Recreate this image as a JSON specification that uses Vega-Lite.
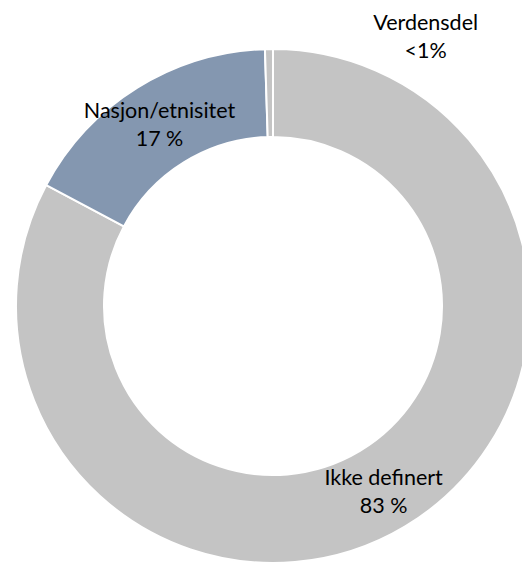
{
  "$schema": "https://vega.github.io/schema/vega-lite/v6.json",
  "width": 514,
  "height": 514,
  "autosize": {"type": "none"},
  "padding": {"left": 16, "top": 49, "right": -8, "bottom": 2},
  "background": "white",
  "view": {"stroke": null},
  "data": {
    "values": [
      {"kategori": "Ikke definert", "andel": 82.8, "etikett": "Ikke definert\n83 %", "rekkefolge": 1},
      {"kategori": "Nasjon/etnisitet", "andel": 16.7, "etikett": "Nasjon/etnisitet\n17 %", "rekkefolge": 2},
      {"kategori": "Verdensdel", "andel": 0.5, "etikett": "Verdensdel\n<1%", "rekkefolge": 3}
    ]
  },
  "encoding": {
    "theta": {"field": "andel", "type": "quantitative", "stack": true},
    "order": {"field": "rekkefolge", "type": "quantitative"}
  },
  "layer": [
    {
      "mark": {"type": "arc", "outerRadius": 257, "innerRadius": 169, "stroke": "white", "strokeWidth": 2},
      "encoding": {
        "color": {
          "field": "kategori",
          "type": "nominal",
          "scale": {"domain": ["Ikke definert", "Nasjon/etnisitet", "Verdensdel"], "range": ["#C4C4C4", "#8497B0", "#C4C4C4"]},
          "legend": null
        }
      }
    },
    {
      "mark": {"type": "text", "radius": 215, "dy": -11, "font": "Lato", "fontSize": 21.5, "lineHeight": 28, "lineBreak": "\n", "color": "#000000", "align": "center", "baseline": "middle"},
      "encoding": {
        "text": {"field": "etikett", "type": "nominal", "condition": {"test": "datum.kategori === 'Verdensdel'", "value": ""}}
      }
    },
    {
      "mark": {"type": "text", "radius": 215, "dx": 156, "dy": -67, "font": "Lato", "fontSize": 21.5, "lineHeight": 28, "lineBreak": "\n", "color": "#000000", "align": "center", "baseline": "middle"},
      "encoding": {
        "text": {"field": "etikett", "type": "nominal", "condition": {"test": "datum.kategori !== 'Verdensdel'", "value": ""}}
      }
    }
  ]
}
